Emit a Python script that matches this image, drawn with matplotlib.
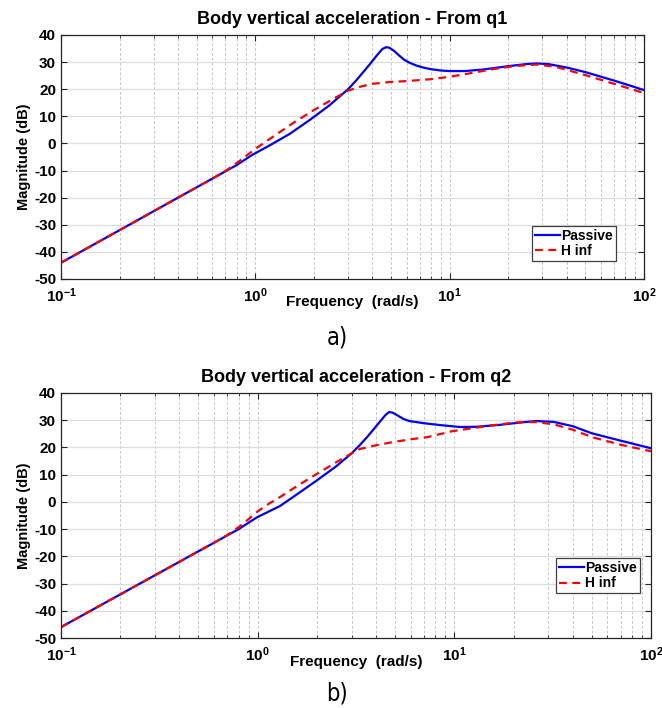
import matplotlib
matplotlib.use("Agg")
import matplotlib.pyplot as plt
from matplotlib.ticker import FixedLocator, FixedFormatter, LogLocator, NullFormatter

# frequency (rad/s) and magnitude (dB)
passive_q1_w = [0.1, 0.2, 0.4, 0.6, 0.8, 0.96, 1.2, 1.5, 1.9, 2.4, 3.0, 3.3,
                3.6, 3.9, 4.2, 4.5, 4.7, 4.9, 5.2, 5.5, 5.8, 6.2, 6.7, 7.3,
                8.0, 9.0, 10, 12, 15, 20, 25, 28, 32, 40, 50, 70, 100]
passive_q1_db = [-44, -32, -20, -13, -8, -4.3, -0.5, 3.5, 8.6, 14, 20, 23.2,
                 26.4, 29.4, 32.3, 34.8, 35.5, 35.3, 34.0, 32.4, 31.0, 29.8,
                 28.8, 28.0, 27.4, 26.9, 26.7, 26.7, 27.3, 28.5, 29.3, 29.5,
                 29.3, 28, 26.3, 23.2, 19.7]

hinf_q1_w = [0.1, 0.2, 0.4, 0.6, 0.7, 0.8, 0.9, 1.0, 1.15, 1.3, 1.6, 2.0, 2.5,
             3.0, 3.5, 4.0, 5.0, 6.0, 8.0, 10, 13, 17, 22, 28, 35, 50, 70, 100]
hinf_q1_db = [-44, -32, -20, -13, -10.2, -7.3, -4.5, -2, 1, 3.6, 8, 12.3,
              16.3, 19.5, 21, 22, 22.7, 23, 23.7, 24.6, 26, 27.5, 28.6, 29.1,
              28.3, 25.2, 22, 18.6]

passive_q2_w = [0.1, 0.2, 0.4, 0.6, 0.8, 0.99, 1.3, 1.6, 2.0, 2.5, 3.0, 3.3,
                3.6, 3.9, 4.2, 4.45, 4.65, 4.85, 5.1, 5.5, 5.9, 7, 8.5, 10.7,
                13, 17, 22, 26, 32, 40, 50, 70, 100]
passive_q2_db = [-46, -34, -22, -15, -10, -5.7, -1.5, 3, 7.9, 13, 17.8, 20.8,
                 23.8, 26.8, 29.6, 31.8, 33, 32.8, 31.9, 30.5, 29.7, 28.9,
                 28.2, 27.5, 27.6, 28.3, 29.2, 29.7, 29.4, 27.8, 25.2, 22.5,
                 19.7]

hinf_q2_w = [0.1, 0.2, 0.4, 0.6, 0.7, 0.8, 0.9, 1.0, 1.15, 1.3, 1.6, 2.0, 2.5,
             3.0, 3.3, 4.0, 4.9, 6, 7.3, 9.8, 13, 17, 21.5, 26, 32, 40, 50,
             70, 100]
hinf_q2_db = [-46, -34, -22, -15, -12.2, -9.3, -6.3, -3.5, -0.5, 1.8, 6, 10.3,
              14.5, 17.8, 19.4, 20.8, 22, 23, 23.8, 26, 27.3, 28.5, 29.3, 29.3,
              28.5, 26.5, 23.8, 21, 18.6]

titles = ["Body vertical acceleration - From q1",
          "Body vertical acceleration - From q2"]
captions = ["a)", "b)"]
series_names = ["Passive", "H inf"]
x_ticks = [0.1, 1, 10, 100]
x_tick_labels = [r"$\mathbf{10^{-1}}$", r"$\mathbf{10^{0}}$",
                 r"$\mathbf{10^{1}}$", r"$\mathbf{10^{2}}$"]
y_ticks = list(range(-50, 41, 10))

plt.rcParams["font.family"] = ["Liberation Sans", "DejaVu Sans"]
plt.rcParams["axes.unicode_minus"] = False
plt.rcParams["mathtext.fontset"] = "custom"
plt.rcParams["mathtext.rm"] = "Liberation Sans:bold"
plt.rcParams["mathtext.bf"] = "Liberation Sans:bold"

W, H = 662, 708
fig = plt.figure(figsize=(W / 100, H / 100), dpi=100)


def px_axes(left, top, right, bottom):
    return fig.add_axes([left / W, 1 - bottom / H, (right - left) / W,
                         (bottom - top) / H])


def draw_panel(ax, w1, d1, w2, d2, title, legend_anchor):
    ax.semilogx(w1, d1, color="#0000ff", lw=1.6, label=series_names[0])
    ax.semilogx(w2, d2, color="#ff0000", lw=1.6, dashes=(3.5, 2.5),
                label=series_names[1])
    ax.set_xlim(0.1, 100)
    ax.set_ylim(-50, 40)
    ax.xaxis.set_major_locator(FixedLocator(x_ticks))
    ax.xaxis.set_major_formatter(FixedFormatter(x_tick_labels))
    ax.xaxis.set_minor_locator(LogLocator(base=10, subs=range(2, 10)))
    ax.xaxis.set_minor_formatter(NullFormatter())
    ax.set_yticks(y_ticks)
    ax.grid(True, which="major", axis="y", color="#dcdcdc", lw=0.9)
    ax.grid(True, which="both", axis="x", color="#c8c8c8", lw=0.7,
            linestyle=(0, (3, 2)))
    ax.set_axisbelow(True)
    ax.tick_params(which="both", direction="in", top=True, right=True,
                   colors="#262626", labelcolor="black")
    ax.tick_params(which="major", length=4, labelsize=11)
    ax.tick_params(axis="x", which="major", pad=5)
    ax.tick_params(which="minor", length=2.5)
    for lbl in ax.get_yticklabels():
        lbl.set_fontweight("bold")
    for sp in ax.spines.values():
        sp.set_color("#262626")
        sp.set_linewidth(0.9)
    ax.set_title(title, fontsize=13, fontweight="bold", pad=8)
    ax.set_xlabel("Frequency  (rad/s)", fontsize=11, fontweight="bold")
    ax.set_ylabel("Magnitude (dB)", fontsize=10.5, fontweight="bold")
    leg = ax.legend(loc="lower right", bbox_to_anchor=legend_anchor,
                    fancybox=False, framealpha=1, edgecolor="#404040",
                    handlelength=1.8, handletextpad=0.1, borderpad=0.2,
                    labelspacing=0.1, borderaxespad=0,
                    prop={"weight": "bold", "size": 10})
    leg.get_frame().set_linewidth(0.9)


ax1 = px_axes(61, 35, 644, 279)
draw_panel(ax1, passive_q1_w, passive_q1_db, hinf_q1_w, hinf_q1_db,
           titles[0], (0.952, 0.074))
ax1.xaxis.set_label_coords(0.5, -0.065)
ax1.yaxis.set_label_coords(-0.051, 0.5)

ax2 = px_axes(61, 393, 651, 638)
draw_panel(ax2, passive_q2_w, passive_q2_db, hinf_q2_w, hinf_q2_db,
           titles[1], (0.981, 0.183))
ax2.xaxis.set_label_coords(0.5, -0.07)
ax2.yaxis.set_label_coords(-0.05, 0.5)

cap_font = ["Liberation Sans Narrow", "DejaVu Sans"]
fig.text(337 / W, 1 - 338 / H, captions[0], ha="center", va="center",
         fontsize=17, family=cap_font, fontstretch="condensed")
fig.text(337 / W, 1 - 693 / H, captions[1], ha="center", va="center",
         fontsize=17, family=cap_font, fontstretch="condensed")

fig.savefig("out.png", dpi=100)
